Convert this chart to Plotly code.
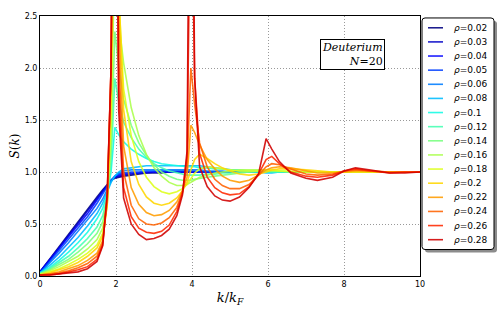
import plotly.graph_objects as go

# ---------------- data ----------------
rho = [0.02, 0.03, 0.04, 0.05, 0.06, 0.08, 0.1, 0.12, 0.14, 0.16, 0.18, 0.2, 0.22, 0.24, 0.26, 0.28]

k = [0, 0.25, 0.5, 0.75, 1.0, 1.25, 1.5, 1.65, 1.77, 1.87,
     1.97, 2.07, 2.2, 2.4, 2.6, 2.8, 3.0, 3.2, 3.4, 3.6,
     3.75, 3.87, 3.97, 4.07, 4.2, 4.4, 4.6, 4.8, 5.0, 5.25,
     5.5, 5.75, 5.95, 6.1, 6.3, 6.6, 7.0, 7.3, 7.7, 8.0,
     8.3, 8.7, 9.2, 9.6, 10.0]

S_002 = [0.04, 0.16, 0.28, 0.40, 0.52, 0.65, 0.76, 0.83, 0.88, 0.92,
         0.94, 0.95, 0.96, 0.97, 0.98, 0.99, 0.99, 0.99, 1.00, 1.00,
         1.00, 1.00, 1.00, 1.00, 1.00, 1.00, 1.00, 1.00, 1.00, 1.00,
         1.00, 1.00, 1.00, 1.00, 1.00, 1.00, 1.00, 1.00, 1.00, 1.00,
         1.00, 1.00, 1.00, 1.00, 1.00]
S_003 = [0.04, 0.15, 0.27, 0.39, 0.51, 0.63, 0.75, 0.82, 0.88, 0.92,
         0.95, 0.96, 0.97, 0.98, 0.99, 0.99, 1.00, 1.00, 1.00, 1.00,
         1.00, 1.00, 1.00, 1.00, 1.00, 1.00, 1.00, 1.00, 1.00, 1.00,
         1.00, 1.00, 1.00, 1.00, 1.00, 1.00, 1.00, 1.00, 1.00, 1.00,
         1.00, 1.00, 1.00, 1.00, 1.00]
S_004 = [0.04, 0.15, 0.26, 0.37, 0.49, 0.60, 0.73, 0.81, 0.87, 0.92,
         0.95, 0.97, 0.98, 0.99, 0.99, 1.00, 1.00, 1.00, 1.00, 1.00,
         1.00, 1.00, 1.00, 1.00, 1.00, 1.00, 1.00, 1.00, 1.00, 1.00,
         1.00, 1.00, 1.00, 1.00, 1.00, 1.00, 1.00, 1.00, 1.00, 1.00,
         1.00, 1.00, 1.00, 1.00, 1.00]
S_005 = [0.03, 0.14, 0.25, 0.35, 0.46, 0.57, 0.70, 0.79, 0.86, 0.92,
         0.96, 0.98, 0.99, 1.00, 1.00, 1.01, 1.01, 1.01, 1.01, 1.01,
         1.01, 1.01, 1.01, 1.01, 1.00, 1.00, 1.00, 1.00, 1.00, 1.00,
         1.00, 1.00, 1.00, 1.00, 1.00, 1.00, 1.00, 1.00, 1.00, 1.00,
         1.00, 1.00, 1.00, 1.00, 1.00]
S_006 = [0.03, 0.12, 0.22, 0.32, 0.43, 0.53, 0.65, 0.74, 0.84, 0.91,
         0.96, 0.99, 1.01, 1.02, 1.02, 1.02, 1.02, 1.02, 1.02, 1.02,
         1.02, 1.02, 1.02, 1.02, 1.02, 1.01, 1.01, 1.01, 1.00, 1.00,
         1.00, 1.00, 1.00, 1.00, 1.00, 1.00, 1.00, 1.00, 1.00, 1.00,
         1.00, 1.00, 1.00, 1.00, 1.00]
S_008 = [0.03, 0.10, 0.18, 0.27, 0.37, 0.48, 0.60, 0.70, 0.81, 0.90,
         0.96, 1.00, 1.03, 1.04, 1.05, 1.06, 1.06, 1.06, 1.06, 1.06,
         1.06, 1.06, 1.06, 1.06, 1.06, 1.05, 1.04, 1.03, 1.02, 1.01,
         1.00, 1.00, 0.99, 0.99, 1.00, 1.00, 1.00, 1.00, 1.00, 1.00,
         1.00, 1.00, 1.00, 1.00, 1.00]
S_010 = [0.03, 0.08, 0.15, 0.23, 0.32, 0.42, 0.55, 0.65, 0.79, 1.00,
         1.43, 1.36, 1.29, 1.22, 1.17, 1.13, 1.10, 1.08, 1.07, 1.06,
         1.05, 1.05, 1.05, 1.05, 1.04, 1.04, 1.03, 1.03, 1.02, 1.02,
         1.01, 1.01, 1.00, 1.00, 1.00, 1.00, 1.00, 1.00, 1.00, 1.00,
         1.00, 1.00, 1.00, 1.00, 1.00]
S_012 = [0.02, 0.07, 0.13, 0.19, 0.27, 0.36, 0.47, 0.58, 0.76, 1.10,
         1.90, 1.68, 1.48, 1.33, 1.22, 1.14, 1.08, 1.04, 1.01, 0.99,
         0.98, 0.97, 0.97, 0.97, 0.97, 0.98, 0.98, 0.99, 0.99, 1.00,
         1.00, 1.00, 1.00, 1.00, 1.00, 1.00, 1.00, 1.00, 1.00, 1.00,
         1.00, 1.00, 1.00, 1.00, 1.00]
S_014 = [0.02, 0.06, 0.11, 0.16, 0.23, 0.31, 0.41, 0.52, 0.74, 1.20,
         2.35, 2.02, 1.70, 1.45, 1.28, 1.16, 1.07, 1.00, 0.96, 0.93,
         0.92, 0.92, 0.92, 0.93, 0.94, 0.95, 0.96, 0.97, 0.98, 0.99,
         1.00, 1.01, 1.01, 1.01, 1.01, 1.00, 1.00, 1.00, 1.00, 1.00,
         1.00, 1.00, 1.00, 1.00, 1.00]
S_016 = [0.02, 0.05, 0.09, 0.14, 0.19, 0.26, 0.35, 0.46, 0.72, 1.35,
         3.20, 2.45, 2.05, 1.62, 1.35, 1.17, 1.04, 0.96, 0.90, 0.87,
         0.87, 0.88, 0.90, 0.92, 0.95, 0.97, 0.99, 1.00, 1.01, 1.02,
         1.02, 1.02, 1.02, 1.01, 1.01, 1.00, 1.00, 1.00, 1.00, 1.00,
         1.00, 1.00, 1.00, 1.00, 1.00]
S_018 = [0.01, 0.04, 0.07, 0.11, 0.16, 0.22, 0.30, 0.41, 0.70, 1.55,
         4.00, 2.70, 1.80, 1.35, 1.10, 0.95, 0.86, 0.81, 0.79, 0.81,
         0.84, 0.88, 0.94, 0.99, 1.03, 1.05, 1.04, 1.03, 1.02, 1.01,
         1.01, 1.01, 1.02, 1.02, 1.01, 1.01, 1.00, 1.00, 1.00, 1.00,
         1.00, 1.00, 1.00, 1.00, 1.00]
S_020 = [0.01, 0.03, 0.06, 0.09, 0.13, 0.19, 0.27, 0.38, 0.68, 1.75,
         4.80, 2.80, 1.60, 1.10, 0.88, 0.76, 0.70, 0.68, 0.70, 0.75,
         0.82, 0.90, 1.02, 1.12, 1.17, 1.13, 1.08, 1.04, 1.01, 0.98,
         0.97, 0.98, 1.00, 1.02, 1.03, 1.03, 1.02, 1.01, 1.00, 1.00,
         1.00, 1.00, 1.00, 1.00, 1.00]
S_022 = [0.01, 0.02, 0.04, 0.07, 0.10, 0.15, 0.22, 0.34, 0.70, 1.90,
         5.50, 2.50, 1.25, 0.85, 0.69, 0.61, 0.58, 0.59, 0.63, 0.71,
         0.82, 0.95, 1.45, 1.38, 1.26, 1.12, 1.03, 0.96, 0.92, 0.90,
         0.92, 0.97, 1.02, 1.04, 1.05, 1.04, 1.01, 0.99, 0.99, 1.00,
         1.01, 1.01, 1.00, 1.00, 1.00]
S_024 = [0.01, 0.02, 0.03, 0.05, 0.08, 0.12, 0.19, 0.32, 0.75, 2.00,
         6.00, 2.10, 1.00, 0.68, 0.55, 0.50, 0.49, 0.51, 0.56, 0.66,
         0.81, 1.05, 2.00, 1.65, 1.28, 1.05, 0.93, 0.87, 0.84, 0.84,
         0.88, 0.97, 1.05, 1.08, 1.07, 1.03, 0.98, 0.97, 0.98, 1.01,
         1.02, 1.01, 1.00, 1.00, 1.00]
S_026 = [0.01, 0.01, 0.02, 0.04, 0.06, 0.09, 0.16, 0.30, 0.78, 2.00,
         6.50, 1.80, 0.85, 0.57, 0.46, 0.42, 0.41, 0.43, 0.49, 0.62,
         0.80, 1.15, 4.00, 1.90, 1.18, 0.95, 0.85, 0.80, 0.78, 0.79,
         0.86, 0.98, 1.12, 1.15, 1.08, 1.00, 0.96, 0.95, 0.97, 1.01,
         1.03, 1.01, 0.99, 1.00, 1.00]
S_028 = [0.01, 0.01, 0.02, 0.03, 0.04, 0.07, 0.14, 0.29, 0.80, 2.00,
         7.00, 1.60, 0.75, 0.50, 0.40, 0.35, 0.36, 0.39, 0.45, 0.58,
         0.78, 1.20, 6.00, 1.90, 1.05, 0.86, 0.77, 0.73, 0.72, 0.76,
         0.85, 0.98, 1.32, 1.22, 1.10, 0.99, 0.94, 0.92, 0.95, 1.01,
         1.04, 1.02, 0.99, 0.99, 1.00]

series = [S_002, S_003, S_004, S_005, S_006, S_008, S_010, S_012,
          S_014, S_016, S_018, S_020, S_022, S_024, S_026, S_028]

x_ticks = [0, 2, 4, 6, 8, 10]
y_ticks = [0.0, 0.5, 1.0, 1.5, 2.0, 2.5]


# ---------------- style helpers ----------------
def _seg(x, pts):
    for (x0, y0), (x1, y1) in zip(pts[:-1], pts[1:]):
        if x0 <= x <= x1:
            return y0 if x1 == x0 else y0 + (y1 - y0) * (x - x0) / (x1 - x0)
    return pts[-1][1]


def jet(t):
    r = _seg(t, [(0, 0), (0.35, 0), (0.66, 1), (0.89, 1), (1, 0.5)])
    g = _seg(t, [(0, 0), (0.125, 0), (0.375, 1), (0.64, 1), (0.91, 0), (1, 0)])
    b = _seg(t, [(0, 0.5), (0.11, 1), (0.34, 1), (0.65, 0), (1, 0)])
    return "rgb(%d,%d,%d)" % (round(r * 255), round(g * 255), round(b * 255))


n = len(rho)
colors = [jet(0.93 * i / (n - 1)) for i in range(n)]

# plot-area geometry in pixels
W, H = 498, 315
L, R, T, B = 40, 78, 12, 38
PW, PH = W - L - R, H - T - B


def px_x(px):
    return (px - L) / PW


def px_y(py):
    return (H - B - py) / PH


fig = go.Figure()
for r, s, c in zip(rho, series, colors):
    fig.add_trace(go.Scatter(
        x=k, y=s, mode="lines", name=f"ρ={r:g}",
        line=dict(color=c, width=1.6), opacity=0.88,
        showlegend=False))

shapes = []
annotations = []

# custom legend box (matplotlib-like with shadow)
bx0, bx1, by0, by1 = 422, 494, 14, 250


def rounded(x0, x1, y0, y1, rad=3):
    X0, X1 = px_x(x0), px_x(x1)
    Y0, Y1 = px_y(y1), px_y(y0)
    rx, ry = rad / PW, rad / PH
    return (f"M {X0+rx},{Y0} L {X1-rx},{Y0} Q {X1},{Y0} {X1},{Y0+ry} "
            f"L {X1},{Y1-ry} Q {X1},{Y1} {X1-rx},{Y1} L {X0+rx},{Y1} "
            f"Q {X0},{Y1} {X0},{Y1-ry} L {X0},{Y0+ry} Q {X0},{Y0} {X0+rx},{Y0} Z")


shapes.append(dict(type="path", xref="paper", yref="paper",
                   path=rounded(bx0 + 3, bx1 + 3, by0 + 3, by1 + 3),
                   fillcolor="#8c8c8c", line=dict(width=0), layer="above"))
shapes.append(dict(type="path", xref="paper", yref="paper",
                   path=rounded(bx0, bx1, by0, by1),
                   fillcolor="white", line=dict(color="black", width=1), layer="above"))

row0, dy = 24, 14.4
for i, (r, c) in enumerate(zip(rho, colors)):
    yy = px_y(row0 + i * dy)
    shapes.append(dict(type="line", xref="paper", yref="paper",
                       x0=px_x(428), x1=px_x(443), y0=yy, y1=yy,
                       line=dict(color=c, width=1.6), opacity=0.88, layer="above"))
    annotations.append(dict(xref="paper", yref="paper", x=px_x(452), y=yy,
                            xanchor="left", yanchor="middle", showarrow=False,
                            text=f"<i>ρ</i>={r:g}",
                            font=dict(family="DejaVu Sans", size=9, color="black")))

# info box
annotations.append(dict(xref="paper", yref="paper", x=px_x(385), y=px_y(35),
                        xanchor="right", yanchor="top", showarrow=False, align="right",
                        text="<i>Deuterium</i><br><i>N</i>=20",
                        font=dict(family="DejaVu Serif", size=11, color="black"),
                        bordercolor="black", borderwidth=1, borderpad=1, bgcolor="white"))

axis_common = dict(showgrid=True, gridcolor="#999999", griddash="1px,2px", gridwidth=1,
                   showline=True, linecolor="black", linewidth=1, mirror=True,
                   zeroline=False, ticks="", tickfont=dict(family="DejaVu Sans", size=8, color="black"))

fig.update_layout(
    width=W, height=H,
    margin=dict(l=L, r=R, t=T, b=B),
    paper_bgcolor="white", plot_bgcolor="white",
    showlegend=False,
    xaxis=dict(range=[0, 10], tickvals=x_ticks,
               title=dict(text="<i>k</i>/<i>k</i><sub><i>F</i></sub>",
                          font=dict(family="DejaVu Serif", size=13, color="black"), standoff=5),
               **axis_common),
    yaxis=dict(range=[0, 2.5], tickvals=y_ticks, tickformat=".1f",
               title=dict(text="<i>S</i>(<i>k</i>)",
                          font=dict(family="DejaVu Serif", size=12, color="black"), standoff=2),
               **axis_common),
    shapes=shapes,
    annotations=annotations,
)

fig.write_html("out.html", config={"displayModeBar": False},
               post_script="document.body.style.margin='0px';document.body.style.padding='0px';")
